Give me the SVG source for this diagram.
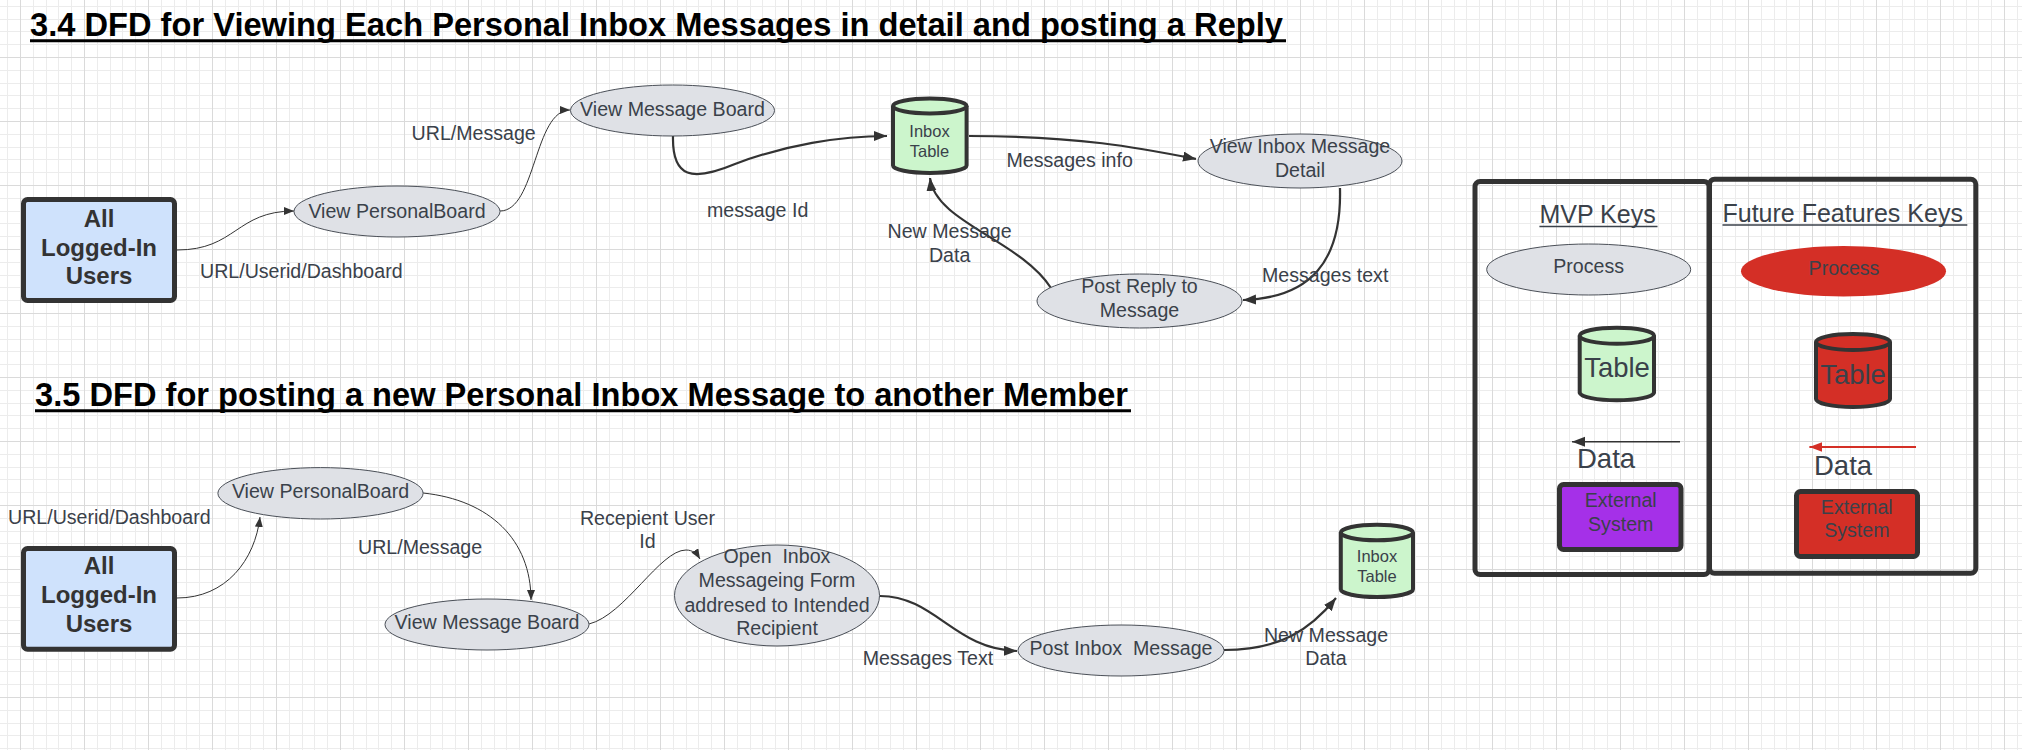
<svg xmlns="http://www.w3.org/2000/svg" width="2022" height="750" viewBox="0 0 2022 750">
  <defs>
    <pattern id="grid" x="20" y="57" width="64" height="64" patternUnits="userSpaceOnUse">
      <path d="M13.5,0V64M26.5,0V64M38.5,0V64M51.5,0V64M0,13.5H64M0,26.5H64M0,38.5H64M0,51.5H64" stroke="#ececec" stroke-width="1" fill="none"/>
      <path d="M0.5,0V64M0,0.5H64" stroke="#dadada" stroke-width="1" fill="none"/>
    </pattern>
    <marker id="arrThin" markerUnits="userSpaceOnUse" markerWidth="11" markerHeight="9" refX="10" refY="4" orient="auto">
      <path d="M0,0 L10,4 L0,8 z" fill="#333333"/>
    </marker>
    <marker id="arrThick" markerUnits="userSpaceOnUse" markerWidth="14" markerHeight="11" refX="13" refY="5" orient="auto">
      <path d="M0,0 L13,5 L0,10 z" fill="#333333"/>
    </marker>
    <marker id="arrRed" markerUnits="userSpaceOnUse" markerWidth="14" markerHeight="11" refX="13" refY="5" orient="auto">
      <path d="M0,0 L13,5 L0,10 z" fill="#d42f26"/>
    </marker>
    <style>
      .title { font-family: "Liberation Sans", Arial, sans-serif; font-weight: bold; font-size: 32.6px; fill: #000000; }
      .uline { stroke: #000000; stroke-width: 3; }
      .ext { fill: #cfe2fc; stroke: #333333; stroke-width: 5; }
      .extTxt { font-family: "Liberation Sans", Arial, sans-serif; font-weight: bold; font-size: 24px; fill: #333333; text-anchor: middle; }
      .proc { fill: #dfe1e6; stroke: #4a4f57; stroke-width: 1; }
      .txt { font-family: "Liberation Sans", Arial, sans-serif; font-size: 19.6px; fill: #3a414a; }
      .mid { text-anchor: middle; }
      .cyl { fill: #ccf5cc; stroke: #333333; stroke-width: 4; }
      .cylTxt { font-family: "Liberation Sans", Arial, sans-serif; font-size: 16.5px; fill: #3a414a; text-anchor: middle; }
      .thin { fill: none; stroke: #333333; stroke-width: 1; marker-end: url(#arrThin); }
      .thick { fill: none; stroke: #333333; stroke-width: 2.2; marker-end: url(#arrThick); }
      .frame { fill: none; stroke: #333333; stroke-width: 5; }
      .keyHead { font-family: "Liberation Sans", Arial, sans-serif; font-size: 25px; fill: #3a414a; }
      .big { font-family: "Liberation Sans", Arial, sans-serif; font-size: 27.5px; fill: #3a414a; }
      .red { fill: #d42f26; }
    </style>
  </defs>

  <rect x="0" y="0" width="2022" height="750" fill="#ffffff"/>
  <rect x="0" y="0" width="2022" height="750" fill="url(#grid)"/>

  <!-- Titles -->
  <g id="title-3-4">
    <text class="title" x="30" y="36" textLength="1253" lengthAdjust="spacingAndGlyphs">3.4 DFD for Viewing Each Personal Inbox Messages in detail and posting a Reply</text>
    <line class="uline" x1="30" y1="40.7" x2="1286" y2="40.7"/>
  </g>
  <g id="title-3-5">
    <text class="title" x="35" y="406" textLength="1093" lengthAdjust="spacingAndGlyphs">3.5 DFD for posting a new Personal Inbox Message to another Member</text>
    <line class="uline" x1="35" y1="410.8" x2="1131" y2="410.8"/>
  </g>

  <!-- Connectors -->
  <g id="connectors">
    <!-- section 3.4 -->
    <path class="thin" d="M177,250 C236,250 236,211 294,211"/>
    <path class="thin" d="M500,211 C536,211 534,110 570,110"/>
    <path class="thick" d="M673,136 C672,178 692,182 735,164 C785,145 840,136 887,136"/>
    <path class="thick" d="M969,136 C1080,136 1140,148 1196,159"/>
    <path class="thick" d="M1340,188 C1342,262 1310,298 1243,300"/>
    <path class="thick" d="M1051,288 C1020,240 935,222 930,178"/>
    <!-- section 3.5 -->
    <path class="thin" d="M177,598 C226,598 255,560 260,517"/>
    <path class="thin" d="M423,493 C490,500 531,540 531,600"/>
    <path class="thin" d="M589,624 C625,615 660,550 686,550 C693,550 697,554 700,559"/>
    <path class="thick" d="M880,596 C935,596 955,650 1017,651"/>
    <path class="thick" d="M1224,650 C1280,650 1310,630 1336,598"/>
  </g>

  <!-- Connector labels -->
  <g id="labels">
    <text class="txt" x="200" y="278">URL/Userid/Dashboard</text>
    <text class="txt" x="411.6" y="140">URL/Message</text>
    <text class="txt" x="707" y="217">message Id</text>
    <text class="txt" x="1006.5" y="167">Messages info</text>
    <text class="txt" x="1262" y="282">Messages text</text>
    <text class="txt mid" x="949.6" y="238">New Message</text>
    <text class="txt mid" x="949.6" y="262">Data</text>

    <text class="txt" x="8" y="524">URL/Userid/Dashboard</text>
    <text class="txt" x="358" y="554">URL/Message</text>
    <text class="txt mid" x="647.5" y="525">Recepient User</text>
    <text class="txt mid" x="647.5" y="548">Id</text>
    <text class="txt" x="862.8" y="665">Messages Text</text>
    <text class="txt mid" x="1326" y="641.7">New Message</text>
    <text class="txt mid" x="1326" y="665">Data</text>
  </g>

  <!-- Section 3.4 nodes -->
  <g id="s1-users">
    <rect class="ext" x="23.5" y="199.5" width="151" height="101" rx="4"/>
    <text class="extTxt" x="99" y="227">All</text>
    <text class="extTxt" x="99" y="256">Logged-In</text>
    <text class="extTxt" x="99" y="284">Users</text>
  </g>
  <g id="s1-view-personalboard">
    <ellipse class="proc" cx="397" cy="211.5" rx="103" ry="25.5"/>
    <text class="txt mid" x="397" y="217.5">View PersonalBoard</text>
  </g>
  <g id="s1-view-messageboard">
    <ellipse class="proc" cx="672.5" cy="110.5" rx="102" ry="25.5"/>
    <text class="txt mid" x="672.5" y="115.5">View Message Board</text>
  </g>
  <g id="s1-inbox-table">
    <path class="cyl" d="M893,106 L893,165.5 A36.8,7.5 0 0 0 966.6,165.5 L966.6,106"/>
    <ellipse class="cyl" cx="929.8" cy="106" rx="36.8" ry="7.5"/>
    <text class="cylTxt" x="929.5" y="137">Inbox</text>
    <text class="cylTxt" x="929.5" y="157">Table</text>
  </g>
  <g id="s1-view-inbox-detail">
    <ellipse class="proc" cx="1300" cy="161" rx="102" ry="27"/>
    <text class="txt mid" x="1300" y="153.3">View Inbox Message</text>
    <text class="txt mid" x="1300" y="176.7">Detail</text>
  </g>
  <g id="s1-post-reply">
    <ellipse class="proc" cx="1139.5" cy="301" rx="102.5" ry="27"/>
    <text class="txt mid" x="1139.5" y="293.3">Post Reply to</text>
    <text class="txt mid" x="1139.5" y="316.7">Message</text>
  </g>

  <!-- Section 3.5 nodes -->
  <g id="s2-users">
    <rect class="ext" x="23.5" y="548.5" width="151" height="100.7" rx="4"/>
    <text class="extTxt" x="99" y="574">All</text>
    <text class="extTxt" x="99" y="603">Logged-In</text>
    <text class="extTxt" x="99" y="632">Users</text>
  </g>
  <g id="s2-view-personalboard">
    <ellipse class="proc" cx="320.5" cy="493.3" rx="102.6" ry="25.7"/>
    <text class="txt mid" x="320.5" y="498">View PersonalBoard</text>
  </g>
  <g id="s2-view-messageboard">
    <ellipse class="proc" cx="487" cy="624.5" rx="102" ry="25.5"/>
    <text class="txt mid" x="487" y="629">View Message Board</text>
  </g>
  <g id="s2-open-inbox-form">
    <ellipse class="proc" cx="777" cy="595.5" rx="102.5" ry="50.5"/>
    <text class="txt mid" x="777" y="563.3" xml:space="preserve">Open  Inbox</text>
    <text class="txt mid" x="777" y="587.3">Messageing Form</text>
    <text class="txt mid" x="777" y="611.7">addresed to Intended</text>
    <text class="txt mid" x="777" y="635">Recipient</text>
  </g>
  <g id="s2-post-inbox-message">
    <ellipse class="proc" cx="1121" cy="650.5" rx="103" ry="25.5"/>
    <text class="txt mid" x="1121" y="655" xml:space="preserve">Post Inbox  Message</text>
  </g>
  <g id="s2-inbox-table">
    <path class="cyl" d="M1340.8,532.5 L1340.8,589.2 A36.1,7.8 0 0 0 1413,589.2 L1413,532.5"/>
    <ellipse class="cyl" cx="1376.9" cy="532.5" rx="36.1" ry="7.8"/>
    <text class="cylTxt" x="1377" y="561.7">Inbox</text>
    <text class="cylTxt" x="1377" y="581.7">Table</text>
  </g>

  <!-- Legend -->
  <g id="legend-mvp">
    <rect class="frame" x="1475" y="181.5" width="234" height="393" rx="5"/>
    <text class="keyHead" x="1539.4" y="223">MVP Keys</text>
    <line x1="1539.4" y1="226.5" x2="1657.5" y2="226.5" stroke="#3a414a" stroke-width="1.5"/>
    <ellipse class="proc" cx="1588.7" cy="269.5" rx="102" ry="25.5"/>
    <text class="txt mid" x="1588.6" y="273.3">Process</text>
    <path class="cyl" d="M1579.7,335.7 L1579.7,392.7 A37.2,8 0 0 0 1654,392.7 L1654,335.7"/>
    <ellipse class="cyl" cx="1616.9" cy="335.7" rx="37.2" ry="8"/>
    <text class="big mid" x="1617" y="377.3">Table</text>
    <line x1="1680" y1="441.7" x2="1572" y2="441.7" stroke="#333333" stroke-width="1.6" marker-end="url(#arrThick)"/>
    <text class="big" x="1577" y="468.3">Data</text>
    <rect class="ext" x="1559.5" y="484.5" width="121.5" height="65" rx="4" style="fill:#a530e8"/>
    <text class="txt mid" x="1620.7" y="506.7">External</text>
    <text class="txt mid" x="1620.7" y="530.7">System</text>
  </g>
  <g id="legend-future">
    <rect class="frame" x="1709.5" y="179.2" width="266.3" height="394" rx="5"/>
    <text class="keyHead" x="1722.5" y="221.7">Future Features Keys</text>
    <line x1="1722.5" y1="225" x2="1967.3" y2="225" stroke="#3a414a" stroke-width="1.5"/>
    <ellipse class="red" cx="1843.5" cy="271.3" rx="102.5" ry="25.3"/>
    <text class="txt mid" x="1844" y="275">Process</text>
    <path class="cyl" d="M1816,342 L1816,399 A37,8 0 0 0 1890,399 L1890,342" style="fill:#d42f26"/>
    <ellipse class="cyl" cx="1853" cy="342" rx="37" ry="8" style="fill:#d42f26"/>
    <text class="big mid" x="1853" y="384">Table</text>
    <line x1="1916" y1="447" x2="1809.4" y2="447" stroke="#d42f26" stroke-width="2" marker-end="url(#arrRed)"/>
    <text class="big" x="1814" y="475">Data</text>
    <rect class="ext" x="1796.5" y="491.5" width="121" height="65" rx="4" style="fill:#d42f26"/>
    <text class="txt mid" x="1856.8" y="514">External</text>
    <text class="txt mid" x="1856.8" y="537">System</text>
  </g>
</svg>
